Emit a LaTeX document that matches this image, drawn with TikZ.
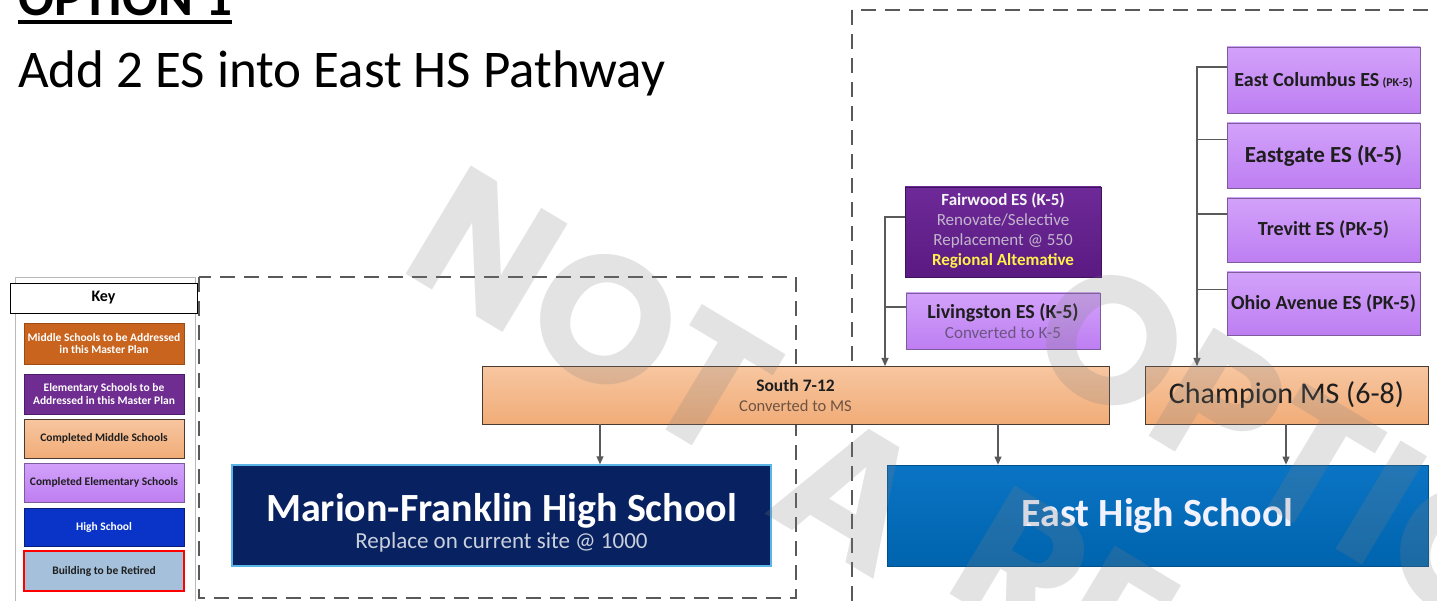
\documentclass[tikz,border=0pt]{standalone}
\usepackage{fontspec}
\setmainfont{Carlito}
\newfontfamily\wmfont{Poppins}
\usetikzlibrary{arrows.meta,calc}
\newcommand{\setfs}[1]{\fontsize{#1}{#1}\selectfont}
\definecolor{linec}{HTML}{5A5A5A}
\definecolor{dashc}{HTML}{595959}
\definecolor{korange}{HTML}{C8641E}
\definecolor{korangeB}{HTML}{9E4A12}
\definecolor{kpurple}{HTML}{6F2C91}
\definecolor{kpurpleB}{HTML}{4E1A6E}
\definecolor{lorangeT}{HTML}{F7C6A0}
\definecolor{lorangeB}{HTML}{F1AC78}
\definecolor{msborder}{HTML}{4A3A30}
\definecolor{lpurpleT}{HTML}{D2A2FA}
\definecolor{lpurpleB}{HTML}{BE7EF2}
\definecolor{esborder}{HTML}{7E5C9C}
\definecolor{hsblue}{HTML}{0A34C8}
\definecolor{hsblueB}{HTML}{0A1E7A}
\definecolor{retired}{HTML}{A4C0DA}
\definecolor{navy}{HTML}{082160}
\definecolor{eastT}{HTML}{0A74C4}
\definecolor{eastB}{HTML}{0064AE}
\definecolor{mfglow}{HTML}{5AB4E6}
\definecolor{fairT}{HTML}{6E2A98}
\definecolor{fairB}{HTML}{5A1A82}
\definecolor{fairsub}{HTML}{C2B6CC}
\definecolor{yel}{HTML}{FFF24A}
\definecolor{txtdark}{HTML}{1E1E1E}
\definecolor{livsub}{HTML}{6A5580}
\definecolor{southsub}{HTML}{6E5242}
\definecolor{mfsub}{HTML}{C9CFDC}
\begin{document}
\begin{tikzpicture}[x=1pt,y=-1pt,
  box/.style={rectangle, inner sep=0pt, line width=0.8pt, align=center},
  conn/.style={draw=linec, line width=1.1pt, -{Triangle[length=8pt,width=7pt]}},
  stub/.style={draw=linec, line width=1.1pt},
  dashrect/.style={draw=dashc, line width=1.3pt, dash pattern=on 15pt off 9pt},
  keyitem/.style={box, minimum width=160pt, font=\setfs{11.5}\bfseries},
  esbox/.style={box, draw=esborder, top color=lpurpleT, bottom color=lpurpleB, minimum width=193pt, font=\bfseries\setfs{20}, text=txtdark},
  msbox/.style={box, draw=msborder, top color=lorangeT, bottom color=lorangeB, minimum height=58pt},
  lbl/.style={anchor=base, inner sep=0pt},
  wm/.style={anchor=base west, inner sep=0pt, rotate=-31, font=\wmfont\bfseries\setfs{180}, text=gray, text opacity=0.22}
]
\useasboundingbox (0,0) rectangle (1437,601);
\clip (0,0) rectangle (1437,601);
\fill[white] (0,0) rectangle (1437,601);

% dashed regions
\draw[dashrect] (199,277) rectangle (796,598);
\draw[dashrect] (852,10) rectangle (1470,640);

% title
\node[anchor=base west, inner sep=0pt, font=\bfseries\setfs{53}] (opt) at (18,16) {OPTION 1};
\draw[line width=3.5pt] ([yshift=-6pt]opt.base west) -- ([yshift=-6pt]opt.base east);
\node[anchor=base west, inner sep=0pt, font=\setfs{53}] (sub) at (18,88) {Add 2 ES into East HS Pathway};

% key
\draw[draw=gray!55, line width=1pt] (15,278) rectangle (195,640);
\node[box, draw=black, fill=white, minimum width=187pt, minimum height=30pt, font=\bfseries\setfs{16}] (keyhead) at (103.5,298) {Key};
\node[keyitem, draw=korangeB, fill=korange, text=white, minimum height=41pt] (k1) at (104,343.5) {Middle Schools to be Addressed\\[1pt]in this Master Plan};
\node[keyitem, draw=kpurpleB, fill=kpurple, text=white, minimum height=40pt] (k2) at (104,394) {Elementary Schools to be\\[1pt]Addressed in this Master Plan};
\node[keyitem, draw=msborder, top color=lorangeT, bottom color=lorangeB, text=txtdark, minimum height=39pt] (k3) at (104,438.5) {Completed Middle Schools};
\node[keyitem, draw=esborder, top color=lpurpleT, bottom color=lpurpleB, text=txtdark, minimum height=39pt] (k4) at (104,482.5) {Completed Elementary Schools};
\node[keyitem, draw=hsblueB, fill=hsblue, text=white, minimum height=38pt] (k5) at (104,527) {High School};
\node[keyitem, draw=red, line width=2pt, fill=retired, text=txtdark, minimum height=40pt] (k6) at (104,571) {Building to be Retired};

% elementary schools, left group
\node[box, draw=fairB!70!black, top color=fairT, bottom color=fairB, minimum width=196pt, minimum height=90pt] (fair) at (1003,232) {};
\node[lbl, font=\bfseries\setfs{17}, text=white!93!gray] (fair1) at (1003,206) {Fairwood ES (K-5)};
\node[lbl, font=\setfs{17}, text=fairsub] (fair2) at (1003,226) {Renovate/Selective};
\node[lbl, font=\setfs{17}, text=fairsub] (fair3) at (1003,246) {Replacement @ 550};
\node[lbl, font=\bfseries\setfs{17}, text=yel] (fair4) at (1003,265.5) {Regional Altemative};

\node[box, draw=esborder, top color=lpurpleT, bottom color=lpurpleB, minimum width=194pt, minimum height=56pt] (liv) at (1003,321) {};
\node[lbl, font=\bfseries\setfs{20}, text=txtdark] (liv1) at (1003,318.5) {Livingston ES (K-5)};
\node[lbl, font=\setfs{17}, text=livsub] (liv2) at (1003,338) {Converted to K-5};

% elementary schools, right group
\node[esbox, minimum height=66pt] (ec) at (1323.5,80) {East Columbus ES\,{\setfs{12}(PK-5)}};
\node[esbox, minimum height=65pt, font=\bfseries\setfs{23}] (eg) at (1323.5,155.5) {Eastgate ES (K-5)};
\node[esbox, minimum height=64pt] (tr) at (1323.5,230) {Trevitt ES (PK-5)};
\node[esbox, minimum height=63pt] (oh) at (1323.5,303.5) {Ohio Avenue ES (PK-5)};

% middle schools
\node[msbox, minimum width=627pt] (south) at (795.5,395) {};
\node[lbl, font=\bfseries\setfs{17.5}, text=txtdark] (south1) at (795.5,391) {South 7-12};
\node[lbl, font=\setfs{16.5}, text=southsub] (south2) at (795.5,411.5) {Converted to MS};
\node[msbox, minimum width=283pt, font=\setfs{30}, text=txtdark] (champ) at (1286.5,395) {Champion MS (6-8)};

% high schools
\node[box, draw=mfglow, line width=1.5pt, fill=navy, minimum width=539pt, minimum height=101pt] (mf) at (501.5,515.5) {};
\node[lbl, font=\bfseries\setfs{40}, text=white] (mf1) at (501.5,521) {Marion-Franklin High School};
\node[lbl, font=\setfs{23}, text=mfsub] (mf2) at (501.5,548) {Replace on current site @ 1000};
\node[box, draw=eastB!80!black, top color=eastT, bottom color=eastB, minimum width=541pt, minimum height=101pt, font=\bfseries\setfs{40}, text=white!95!blue] (east) at (1157.5,515.5) {East High School};

% connectors
\coordinate (sIn) at (885,366);
\coordinate (cIn) at (1197,366);
\draw[conn] ([yshift=15pt]fair.west) -| (sIn);
\draw[stub] ([yshift=14pt]liv.west) -- ++(-21,0);
\draw[conn] ([yshift=13pt]ec.west) -| (cIn);
\draw[stub] ([yshift=16pt]eg.west) -- ++(-30,0);
\draw[stub] ([yshift=16pt]tr.west) -- ++(-30,0);
\draw[stub] ([yshift=14pt]oh.west) -- ++(-30,0);
\draw[conn] ([xshift=-195.5pt]south.south) -- ([xshift=98.5pt]mf.north);
\draw[conn] ([xshift=202.5pt]south.south) -- ([xshift=-159.5pt]east.north);
\draw[conn] ([xshift=-0.5pt]champ.south) -- ([xshift=128.5pt]east.north);

% watermark
\node[wm] (wm1) at (396,268) {NOT};
\node[wm] (wm2) at (762,512) {A};
\node[wm] (wm3) at (940,588) {RE};
\node[wm] (wm4) at (1018,358) {OPTION};
\end{tikzpicture}
\end{document}
